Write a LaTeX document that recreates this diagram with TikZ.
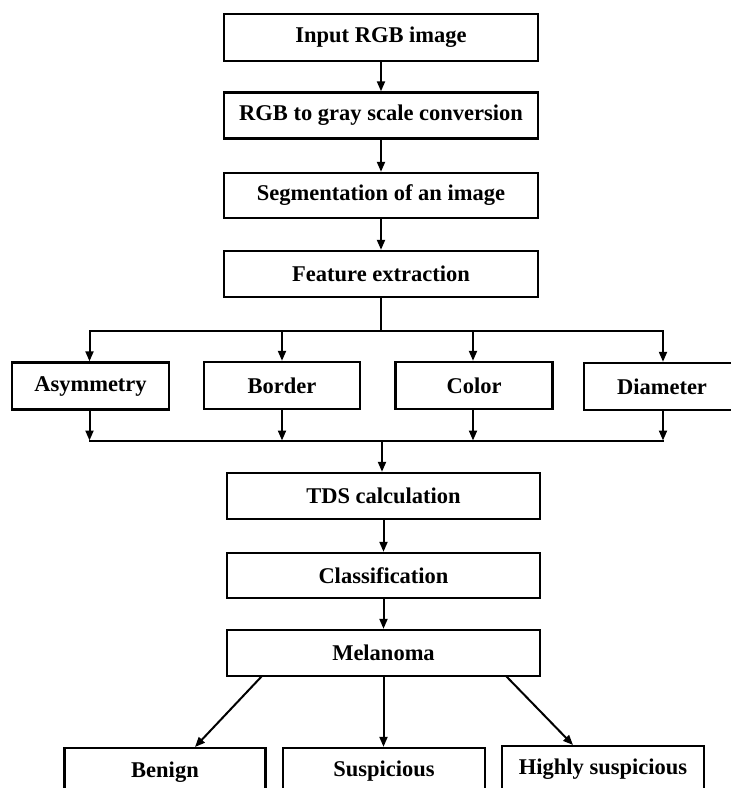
\documentclass[tikz,border=0pt]{standalone}
\usepackage{fontspec}
\setmainfont{Liberation Serif}
\usetikzlibrary{arrows.meta}
\begin{document}
\begin{tikzpicture}[x=1pt,y=-1pt,
  box/.style={draw=black,line width=2.4pt,fill=white,inner sep=0pt,
    font=\fontsize{22.5}{26}\selectfont\bfseries},
  conn/.style={line width=2pt,-{Triangle[length=10pt,width=8pt]}},
  plain/.style={line width=2pt}]
\useasboundingbox (0,0) rectangle (731,788);
% main stack
\node[box,minimum width=314pt,minimum height=47pt] (b1) at (381,37.5) {Input RGB image};
\node[box,minimum width=314pt,minimum height=46pt] (b2) at (381,115.5) {RGB to gray scale conversion};
\node[box,minimum width=314pt,minimum height=45pt] (b3) at (381,195.5) {Segmentation of an image};
\node[box,minimum width=314pt,minimum height=46pt] (b4) at (381,274) {Feature extraction};
% features
\node[box,minimum width=157pt,minimum height=47pt] (asym) at (90.5,386) {Asymmetry};
\node[box,minimum width=156pt,minimum height=47pt] (bord) at (282,385.5) {Border};
\node[box,minimum width=157pt,minimum height=47pt] (colr) at (474,385.5) {Color};
\node[box,minimum width=156pt,minimum height=47pt] (diam) at (662,386.5) {Diameter};
% lower stack
\node[box,minimum width=313pt,minimum height=46pt] (tds) at (383.5,496) {TDS calculation};
\node[box,minimum width=313pt,minimum height=45pt] (cls) at (383.5,575.5) {Classification};
\node[box,minimum width=313pt,minimum height=46pt] (mel) at (383.5,653) {Melanoma};
% outcomes
\node[box,minimum width=201pt,minimum height=60pt] (ben) at (165,778) {};
\node[box,minimum width=202pt,minimum height=60pt] (sus) at (384,778) {};
\node[box,minimum width=202pt,minimum height=60pt] (hig) at (603,776) {};
\node[font=\fontsize{22.5}{26}\selectfont\bfseries] (benT) at (165,772) {Benign};
\node[font=\fontsize{22.5}{26}\selectfont\bfseries] (susT) at (384,771) {Suspicious};
\node[font=\fontsize{22.5}{26}\selectfont\bfseries] (higT) at (603,769.5) {Highly suspicious};
% top chain
\draw[conn] (b1) -- (b2);
\draw[conn] (b2) -- (b3);
\draw[conn] (b3) -- (b4);
% upper bus
\coordinate (tb) at (381,330.5);
\coordinate (tL) at (89.5,330.5);
\coordinate (tBo) at (282,330.5);
\coordinate (tC) at (473,330.5);
\coordinate (tR) at (663,330.5);
\draw[plain] (b4.south) -- (tb);
\draw[plain,line cap=rect] (tL) -- (tR);
\draw[conn] (tL) -- (tL |- asym.north);
\draw[conn] (tBo) -- (tBo |- bord.north);
\draw[conn] (tC) -- (tC |- colr.north);
\draw[conn] (tR) -- (tR |- diam.north);
% lower bus
\coordinate (lL) at (89.5,440.5);
\coordinate (lBo) at (282,440.5);
\coordinate (lC) at (473,440.5);
\coordinate (lR) at (663,440.5);
\coordinate (lb) at (382,440.5);
\draw[plain,line cap=rect] (lL) -- (lR);
\draw[conn] (lL |- asym.south) -- (lL);
\draw[conn] (lBo |- bord.south) -- (lBo);
\draw[conn] (lC |- colr.south) -- (lC);
\draw[conn] (lR |- diam.south) -- (lR);
\draw[conn] (lb) -- (lb |- tds.north);
% lower chain
\draw[conn] (tds) -- (cls);
\draw[conn] (cls) -- (mel);
% outcomes
\coordinate (m1) at (262,676);
\coordinate (m3) at (506,676);
\draw[conn] (m1) -- (195,747);
\draw[conn] (mel.south) -- (mel.south |- sus.north);
\draw[conn] (m3) -- (573,745);
\end{tikzpicture}
\end{document}
